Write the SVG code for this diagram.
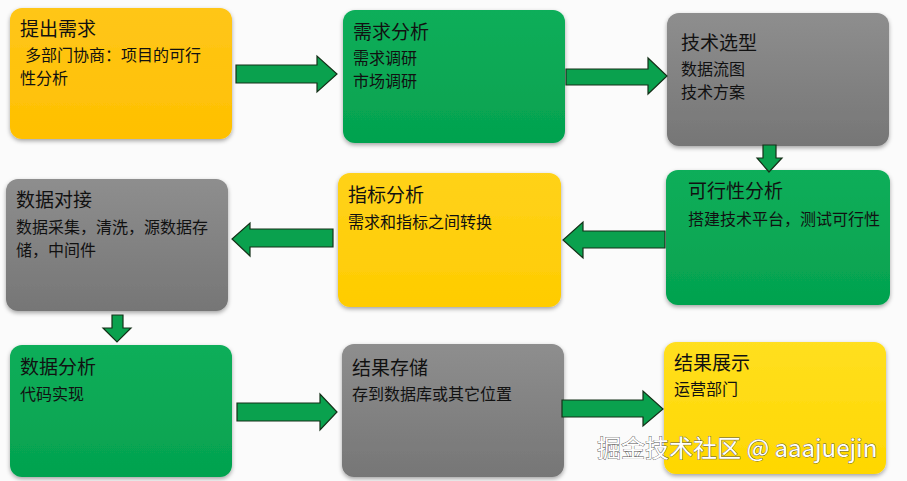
<svg xmlns="http://www.w3.org/2000/svg" width="907" height="481" viewBox="0 0 907 481">
<defs>
<linearGradient id="gGray" x1="0" y1="0" x2="0" y2="1"><stop offset="0" stop-color="#8e8e8e"/><stop offset="1" stop-color="#767676"/></linearGradient>
<linearGradient id="gGreen" x1="0" y1="0" x2="0" y2="1"><stop offset="0" stop-color="#10ae5a"/><stop offset="1" stop-color="#04a24f"/></linearGradient>
<linearGradient id="gOrange" x1="0" y1="0" x2="0" y2="1"><stop offset="0" stop-color="#ffc619"/><stop offset="1" stop-color="#ffc000"/></linearGradient>
<linearGradient id="gYellow" x1="0" y1="0" x2="0" y2="1"><stop offset="0" stop-color="#ffd21a"/><stop offset="1" stop-color="#ffcc00"/></linearGradient>
<linearGradient id="gYellow2" x1="0" y1="0" x2="0" y2="1"><stop offset="0" stop-color="#ffdf20"/><stop offset="1" stop-color="#ffd700"/></linearGradient>
<filter id="sh" x="-5%" y="-5%" width="110%" height="115%"><feDropShadow dx="0" dy="2" stdDeviation="2" flood-color="#000" flood-opacity="0.35"/></filter>
</defs>
<style>
.box{stroke:none;filter:url(#sh)}
.t{font-family:"Noto Sans CJK SC","Liberation Sans",sans-serif;fill:#111}
.title{font-size:19px}
.body{font-size:16px}
.arr{fill:#0aa14e;stroke:#143018;stroke-width:1.2;stroke-linejoin:miter}
.wm{font-family:"Noto Sans CJK SC","Liberation Sans",sans-serif;font-size:24px;fill:#fff;stroke:#555;stroke-width:0.8;paint-order:stroke}
</style>
<rect width="907" height="481" fill="#fbfbfb"/>

<g id="n1">
<rect class="box" x="10" y="8" width="222" height="131" rx="12" fill="url(#gOrange)"/>
<text class="t title" x="20" y="36">提出需求</text>
<text class="t body" x="25" y="61">多部门协商：项目的可行</text>
<text class="t body" x="20" y="84">性分析</text>
</g>
<g id="n2">
<rect class="box" x="343" y="10" width="222" height="133" rx="12" fill="url(#gGreen)"/>
<text class="t title" x="353" y="39">需求分析</text>
<text class="t body" x="353" y="64">需求调研</text>
<text class="t body" x="353" y="87">市场调研</text>
</g>
<g id="n3">
<rect class="box" x="667" y="13" width="222" height="133" rx="12" fill="url(#gGray)"/>
<text class="t title" x="681" y="50">技术选型</text>
<text class="t body" x="681" y="75">数据流图</text>
<text class="t body" x="681" y="98">技术方案</text>
</g>
<g id="n4">
<rect class="box" x="666" y="170" width="224" height="135" rx="12" fill="url(#gGreen)"/>
<text class="t title" x="688" y="198">可行性分析</text>
<text class="t body" x="688" y="225">搭建技术平台，测试可行性</text>
</g>
<g id="n5">
<rect class="box" x="338" y="173" width="223" height="134" rx="12" fill="url(#gYellow)"/>
<text class="t title" x="348" y="202">指标分析</text>
<text class="t body" x="348" y="228">需求和指标之间转换</text>
</g>
<g id="n6">
<rect class="box" x="6" y="179" width="222" height="132" rx="12" fill="url(#gGray)"/>
<text class="t title" x="16" y="207">数据对接</text>
<text class="t body" x="16" y="233">数据采集，清洗，源数据存</text>
<text class="t body" x="16" y="256">储，中间件</text>
</g>
<g id="n7">
<rect class="box" x="10" y="345" width="222" height="132" rx="12" fill="url(#gGreen)"/>
<text class="t title" x="20" y="374">数据分析</text>
<text class="t body" x="20" y="400">代码实现</text>
</g>
<g id="n8">
<rect class="box" x="342" y="344" width="222" height="133" rx="12" fill="url(#gGray)"/>
<text class="t title" x="352" y="375">结果存储</text>
<text class="t body" x="352" y="400">存到数据库或其它位置</text>
</g>
<g id="n9">
<rect class="box" x="664" y="342" width="222" height="132" rx="12" fill="url(#gYellow2)"/>
<text class="t title" x="674" y="370">结果展示</text>
<text class="t body" x="674" y="395">运营部门</text>
</g>

<g id="connectors">
<polygon class="arr" points="236,65 317,65 317,56 337,74 317,92 317,83 236,83"/>
<polygon class="arr" points="566,69 648,69 648,58 667,76 648,94 648,85 566,85"/>
<polygon class="arr" points="763,145 776,145 776,158 782,158 769,172 757,158 763,158"/>
<polygon class="arr" points="665,231 583,231 583,222 563,240 583,258 583,248 665,248"/>
<polygon class="arr" points="333,229 250,229 250,223 232,239 250,256 250,247 333,247"/>
<polygon class="arr" points="112,315 123,315 123,328 131,328 117,342 103,328 112,328"/>
<polygon class="arr" points="237,403 320,403 320,394 337,412 320,430 320,421 237,421"/>
<polygon class="arr" points="562,400 643,400 643,391 663,409 643,426 643,417 562,417"/>
</g>

<text class="wm" x="597" y="457">掘金技术社区 @ aaajuejin</text>
</svg>
